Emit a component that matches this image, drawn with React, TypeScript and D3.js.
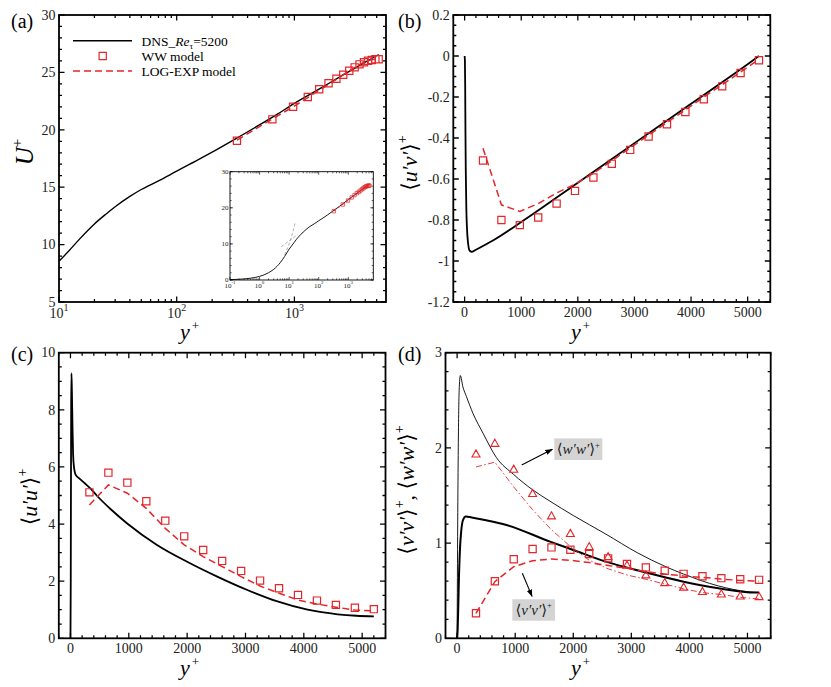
import React from "react";
import * as d3 from "d3";

const RED = "#e3262b";
const SERIF = "'Liberation Serif', 'Times New Roman', 'DejaVu Serif', serif";

// y+ of the wall-model samples (WW model and LOG-EXP model share them)
const modelYPlus = [325, 650, 975, 1300, 1625, 1950, 2275, 2600, 2925, 3250, 3575, 3900, 4225, 4550, 4875, 5200];

// (a) mean velocity U+
const dnsUYPlus = [0.1, 0.2, 0.5, 1, 2, 3, 5, 7, 10, 12, 15, 20, 25, 30, 40, 50, 70, 100, 150, 200, 300, 500, 700, 1000, 1500, 2000, 3000, 4000, 5000, 5200];
const dnsU = [0.1, 0.2, 0.5, 1, 2, 2.95, 4.8, 6.5, 8.55, 9.4, 10.5, 11.8, 12.65, 13.3, 14.2, 14.8, 15.55, 16.4, 17.35, 18.05, 19.08, 20.4, 21.3, 22.3, 23.35, 24.1, 25.15, 25.9, 26.45, 26.55];
const wwU = [19.05, 20.91, 22.01, 22.86, 23.53, 24.05, 24.45, 24.8, 25.15, 25.44, 25.7, 25.88, 26.02, 26.08, 26.14, 26.14];
const logExpU = [19.1, 20.95, 22.0, 22.8, 23.45, 23.95, 24.4, 24.8, 25.12, 25.42, 25.68, 25.88, 26.02, 26.1, 26.16, 26.2];
// inset reference laws (grey dashed)
const viscousYPlus = [7, 9, 11, 13, 15, 16];
const viscousU = [7, 9, 11, 13, 15, 16];
const logLawYPlus = [5.4, 19.5];
const logLawU = [9.2, 12.6];

// (b) Reynolds shear stress
const dnsUVYPlus = [0, 5, 10, 15, 20, 30, 40, 60, 90, 130, 200, 500, 1000, 2000, 3000, 4000, 5000, 5200];
const dnsUV = [0, -0.02, -0.15, -0.38, -0.55, -0.74, -0.83, -0.91, -0.95, -0.955, -0.945, -0.9, -0.81, -0.618, -0.425, -0.233, -0.04, 0];
const wwUV = [-0.51, -0.8, -0.825, -0.788, -0.72, -0.658, -0.593, -0.526, -0.458, -0.393, -0.333, -0.273, -0.211, -0.148, -0.083, -0.021];
const logExpUV = [-0.45, -0.726, -0.758, -0.72, -0.668, -0.625, -0.572, -0.512, -0.448, -0.386, -0.325, -0.263, -0.2, -0.14, -0.078, -0.016];

// (c) streamwise normal stress
const dnsUUYPlus = [0, 5, 8, 12, 17, 25, 35, 45, 60, 90, 150, 250, 340, 450, 700, 967, 1483, 2000, 2516, 3032, 3548, 4064, 4580, 4900, 5200];
const dnsUU = [0, 2.0, 5.0, 8.0, 9.28, 8.6, 7.4, 6.45, 6.0, 5.72, 5.6, 5.42, 5.25, 5.0, 4.5, 4.03, 3.27, 2.68, 2.16, 1.69, 1.29, 1.0, 0.84, 0.79, 0.77];
const wwUU = [5.11, 5.8, 5.45, 4.8, 4.12, 3.57, 3.09, 2.71, 2.36, 2.02, 1.75, 1.52, 1.32, 1.17, 1.07, 1.02];
const logExpUU = [4.67, 5.37, 5.08, 4.55, 3.85, 3.27, 2.86, 2.51, 2.16, 1.83, 1.58, 1.34, 1.2, 1.09, 0.99, 0.96];

// (d) wall-normal and spanwise normal stresses
const dnsVVYPlus = [0, 10, 20, 30, 50, 70, 100, 150, 250, 500, 850, 1600, 2000, 2560, 3200, 3900, 4500, 5000, 5200];
const dnsVV = [0, 0.1, 0.33, 0.6, 0.95, 1.12, 1.24, 1.28, 1.27, 1.24, 1.19, 1.015, 0.928, 0.805, 0.7, 0.595, 0.525, 0.485, 0.48];
const dnsWWYPlus = [0, 10, 20, 35, 55, 100, 160, 275, 450, 675, 975, 1300, 1600, 2000, 2560, 3100, 3600, 3900, 4500, 5000, 5200];
const dnsWW = [0, 1.2, 2.0, 2.6, 2.76, 2.64, 2.54, 2.36, 2.15, 1.9, 1.72, 1.56, 1.44, 1.29, 1.095, 0.9, 0.75, 0.675, 0.55, 0.49, 0.48];
const wwVV = [0.263, 0.6, 0.83, 0.938, 0.955, 0.93, 0.886, 0.84, 0.78, 0.745, 0.71, 0.677, 0.652, 0.632, 0.62, 0.614];
const wwWW = [1.935, 2.047, 1.775, 1.52, 1.285, 1.1, 0.962, 0.857, 0.767, 0.665, 0.584, 0.536, 0.49, 0.465, 0.444, 0.437];
const logExpVV = [0.263, 0.595, 0.752, 0.815, 0.833, 0.82, 0.795, 0.765, 0.735, 0.7, 0.675, 0.655, 0.64, 0.622, 0.608, 0.6];
const logExpWW = [1.8, 1.85, 1.59, 1.35, 1.14, 0.965, 0.82, 0.73, 0.665, 0.62, 0.57, 0.52, 0.48, 0.46, 0.43, 0.413];

const zip = (a: number[], b: number[]) => a.map((v, i) => [v, b[i]]);

const logMinor = (lo: number, hi: number) => {
    const out: number[] = [];
    for (let e = Math.floor(Math.log10(lo)); e <= Math.ceil(Math.log10(hi)); e++) {
        for (let m = 2; m <= 9; m++) {
            const v = m * Math.pow(10, e);
            if (v > lo && v < hi) out.push(v);
        }
    }
    return out;
};

const stepTicks = (lo: number, hi: number, step: number) =>
    d3.range(Math.round(lo / step), Math.round(hi / step) + 1).map((i) => +(i * step).toFixed(6));

const Squares = ({ pts, x, y, s = 3.6, sw = 1.2 }: any) => (
    <path
        d={pts.map((d: number[]) => `M${x(d[0]) - s},${y(d[1]) - s}h${2 * s}v${2 * s}h${-2 * s}z`).join("")}
        fill="none"
        stroke={RED}
        strokeWidth={sw}
    />
);

const Triangles = ({ pts, x, y }: any) => (
    <path
        d={pts.map((d: number[]) => `M${x(d[0])},${y(d[1]) - 4.2}L${x(d[0]) + 4},${y(d[1]) + 2.9}L${x(d[0]) - 4},${y(d[1]) + 2.9}Z`).join("")}
        fill="none"
        stroke={RED}
        strokeWidth={1.1}
    />
);

const Frame = (p: any) => {
    const { x, y, xMajor, xMinor, yMajor, yMinor, xTick, yTick, fs = 14, ml = 5.5, mn = 3, sw = 1.8, lx = 14.5, ly = 3.5 } = p;
    const [xl, xr] = x.range();
    const [yb, yt] = y.range();
    let d = "";
    const vt = (vals: number[], len: number) =>
        vals.forEach((v) => {
            const px = x(v);
            d += `M${px},${yb}v${-len}M${px},${yt}v${len}`;
        });
    const ht = (vals: number[], len: number) =>
        vals.forEach((v) => {
            const py = y(v);
            d += `M${xl},${py}h${len}M${xr},${py}h${-len}`;
        });
    vt(xMajor, ml);
    vt(xMinor, mn);
    ht(yMajor, ml);
    ht(yMinor, mn);
    return (
        <g>
            <path d={d} stroke="#000" strokeWidth={sw * 0.7} fill="none" />
            <rect x={xl} y={yt} width={xr - xl} height={yb - yt} fill="none" stroke="#000" strokeWidth={sw} />
            <g fontSize={fs} textAnchor="middle" fill="#222">
                {xMajor.map((v: number) => (
                    <text key={v} x={x(v)} y={yb + lx}>
                        {xTick(v)}
                    </text>
                ))}
            </g>
            <g fontSize={fs} textAnchor="end" fill="#222">
                {yMajor.map((v: number) => (
                    <text key={v} x={xl - ly} y={y(v)} dy="0.34em">
                        {yTick(v)}
                    </text>
                ))}
            </g>
        </g>
    );
};

const plain = (v: number) => String(+v.toFixed(2));

const YPlusLabel = ({ x, y }: any) => (
    <text x={x} y={y} fontSize={22}>
        <tspan fontStyle="italic">y</tspan>
        <tspan fontSize={13} dy={-9} dx={2}>+</tspan>
    </text>
);

const PanelA = () => {
    const x = d3.scaleLog([10, 6000], [59, 386]);
    const y = d3.scaleLinear([5, 30], [302, 15]);
    const smooth = d3.line().x((d: any) => x(d[0])).y((d: any) => y(d[1])).curve(d3.curveMonotoneX);
    const straight = d3.line().x((d: any) => x(d[0])).y((d: any) => y(d[1]));

    // inset
    const xi = d3.scaleLog([0.1, 7000], [230, 373.3]);
    const yi = d3.scaleLinear([0, 30], [280, 171.7]);
    const smoothI = d3.line().x((d: any) => xi(d[0])).y((d: any) => yi(d[1])).curve(d3.curveMonotoneX);
    const straightI = d3.line().x((d: any) => xi(d[0])).y((d: any) => yi(d[1]));

    const decTick = (sup: number, dy: number) => (v: number) => (
        <>
            <tspan>10</tspan>
            <tspan fontSize={sup} dy={dy}>{Math.round(Math.log10(v))}</tspan>
        </>
    );

    return (
        <g>
            <path d={smooth(zip(dnsUYPlus, dnsU).filter((d) => d[0] >= 10) as any) as string} fill="none" stroke="#000" strokeWidth={1.4} />
            <path d={straight(zip(modelYPlus, logExpU) as any) as string} fill="none" stroke={RED} strokeWidth={1.5} strokeDasharray="7 4" />
            <Squares pts={zip(modelYPlus, wwU)} x={x} y={y} />
            <Frame
                x={x}
                y={y}
                xMajor={[10, 100, 1000]}
                xMinor={logMinor(10, 6000)}
                yMajor={stepTicks(5, 30, 5)}
                yMinor={stepTicks(5, 30, 1)}
                xTick={decTick(10, -7)}
                yTick={plain}
                lx={16}
            />
            {/* legend */}
            <g fontSize={13.5}>
                <line x1={73} x2={132} y1={40.7} y2={40.7} stroke="#000" strokeWidth={1.4} />
                <text x={141.5} y={45.5}>
                    <tspan>DNS_</tspan>
                    <tspan fontStyle="italic">Re</tspan>
                    <tspan fontSize={9} dy={3}>τ</tspan>
                    <tspan dy={-3}>=5200</tspan>
                </text>
                <Squares pts={[[0, 0]]} x={() => 102.7} y={() => 56} />
                <text x={141.5} y={61}>WW model</text>
                <line x1={73} x2={132} y1={71} y2={71} stroke={RED} strokeWidth={1.5} strokeDasharray="7 4" />
                <text x={141.5} y={75.8}>LOG-EXP model</text>
            </g>
            {/* inset */}
            <rect x={230} y={171.7} width={143.3} height={108.3} fill="#fff" />
            <path d={straightI(zip(viscousYPlus, viscousU) as any) as string} fill="none" stroke="#999" strokeWidth={0.8} strokeDasharray="3 2" />
            <path d={straightI(zip(logLawYPlus, logLawU) as any) as string} fill="none" stroke="#999" strokeWidth={0.8} strokeDasharray="3 2" />
            <path d={smoothI(zip(dnsUYPlus, dnsU) as any) as string} fill="none" stroke="#000" strokeWidth={0.9} />
            <path d={straightI(zip(modelYPlus, logExpU) as any) as string} fill="none" stroke={RED} strokeWidth={0.9} strokeDasharray="3 2" />
            <Squares pts={zip(modelYPlus, wwU)} x={xi} y={yi} s={1.7} sw={0.7} />
            <Frame
                x={xi}
                y={yi}
                xMajor={[0.1, 1, 10, 100, 1000]}
                xMinor={logMinor(0.1, 7000)}
                yMajor={[0, 10, 20, 30]}
                yMinor={stepTicks(0, 30, 2)}
                xTick={decTick(5, -3.5)}
                yTick={plain}
                fs={7}
                ml={3}
                mn={1.6}
                sw={0.9}
                lx={7.5}
                ly={1.5}
            />
            <text x={11} y={28} fontSize={20}>(a)</text>
            <text transform="translate(33,152) rotate(-90)" textAnchor="middle" fontSize={25}>
                <tspan fontStyle="italic">U</tspan>
                <tspan fontSize={15} dy={-11}>+</tspan>
            </text>
            <YPlusLabel x={180} y={339} />
        </g>
    );
};

const PanelB = () => {
    const x = d3.scaleLinear([-200, 5400], [453.3, 770.3]);
    const y = d3.scaleLinear([-1.2, 0.2], [302, 15]);
    const smooth = d3.line().x((d: any) => x(d[0])).y((d: any) => y(d[1])).curve(d3.curveMonotoneX);
    const straight = d3.line().x((d: any) => x(d[0])).y((d: any) => y(d[1]));
    return (
        <g>
            <path d={smooth(zip(dnsUVYPlus, dnsUV) as any) as string} fill="none" stroke="#000" strokeWidth={1.8} />
            <path d={straight(zip(modelYPlus, logExpUV) as any) as string} fill="none" stroke={RED} strokeWidth={1.5} strokeDasharray="7 4" />
            <Squares pts={zip(modelYPlus, wwUV)} x={x} y={y} />
            <Frame
                x={x}
                y={y}
                xMajor={stepTicks(0, 5000, 1000)}
                xMinor={stepTicks(-200, 5400, 200)}
                yMajor={stepTicks(-1.2, 0.2, 0.2)}
                yMinor={stepTicks(-1.2, 0.2, 0.05)}
                xTick={plain}
                yTick={plain}
            />
            <text x={398} y={28} fontSize={20}>(b)</text>
            <text transform="translate(417,163) rotate(-90)" textAnchor="middle" fontSize={22}>
                <tspan>⟨</tspan>
                <tspan fontStyle="italic">u′v′</tspan>
                <tspan>⟩</tspan>
                <tspan fontSize={14} dy={-10}>+</tspan>
            </text>
            <YPlusLabel x={571} y={339} />
        </g>
    );
};

const PanelC = () => {
    const x = d3.scaleLinear([-200, 5400], [58.8, 385.5]);
    const y = d3.scaleLinear([0, 10], [638.3, 352.7]);
    const smooth = d3.line().x((d: any) => x(d[0])).y((d: any) => y(d[1])).curve(d3.curveMonotoneX);
    const straight = d3.line().x((d: any) => x(d[0])).y((d: any) => y(d[1]));
    return (
        <g>
            <path d={smooth(zip(dnsUUYPlus, dnsUU) as any) as string} fill="none" stroke="#000" strokeWidth={1.8} />
            <path d={straight(zip(modelYPlus, logExpUU) as any) as string} fill="none" stroke={RED} strokeWidth={1.5} strokeDasharray="7 4" />
            <Squares pts={zip(modelYPlus, wwUU)} x={x} y={y} />
            <Frame
                x={x}
                y={y}
                xMajor={stepTicks(0, 5000, 1000)}
                xMinor={stepTicks(-200, 5400, 200)}
                yMajor={stepTicks(0, 10, 2)}
                yMinor={stepTicks(0, 10, 0.5)}
                xTick={plain}
                yTick={plain}
            />
            <text x={11} y={361} fontSize={20}>(c)</text>
            <text transform="translate(37,497) rotate(-90)" textAnchor="middle" fontSize={22}>
                <tspan>⟨</tspan>
                <tspan fontStyle="italic">u′u′</tspan>
                <tspan>⟩</tspan>
                <tspan fontSize={14} dy={-10}>+</tspan>
            </text>
            <YPlusLabel x={180} y={675} />
        </g>
    );
};

const PanelD = () => {
    const x = d3.scaleLinear([-200, 5400], [445.5, 770.7]);
    const y = d3.scaleLinear([0, 3], [638.3, 352.7]);
    const smooth = d3.line().x((d: any) => x(d[0])).y((d: any) => y(d[1])).curve(d3.curveMonotoneX);
    const straight = d3.line().x((d: any) => x(d[0])).y((d: any) => y(d[1]));
    // annotation boxes placed in data coordinates
    const boxes = [
        { label: "w′w′", x0: 1674, x1: 2500, y0: 2.1, y1: 1.873, from: [1112, 1.821], to: [1640, 1.985] },
        { label: "v′v′", x0: 951, x1: 1686, y0: 0.41, y1: 0.185, from: [1123, 0.683], to: [1290, 0.44] },
    ];
    return (
        <g>
            <defs>
                <marker id="arr" viewBox="0 0 10 10" refX={9} refY={5} markerWidth={7} markerHeight={7} orient="auto">
                    <path d="M0,1.5L10,5L0,8.5z" fill="#000" />
                </marker>
            </defs>
            <path d={smooth(zip(dnsWWYPlus, dnsWW) as any) as string} fill="none" stroke="#000" strokeWidth={0.9} />
            <path d={smooth(zip(dnsVVYPlus, dnsVV) as any) as string} fill="none" stroke="#000" strokeWidth={2} />
            <path d={straight(zip(modelYPlus, logExpWW) as any) as string} fill="none" stroke={RED} strokeWidth={0.9} strokeDasharray="6 2.5 1.5 2.5" />
            <path d={straight(zip(modelYPlus, logExpVV) as any) as string} fill="none" stroke={RED} strokeWidth={1.5} strokeDasharray="7 4" />
            <Squares pts={zip(modelYPlus, wwVV)} x={x} y={y} />
            <Triangles pts={zip(modelYPlus, wwWW)} x={x} y={y} />
            {boxes.map((b) => (
                <g key={b.label}>
                    <rect x={x(b.x0)} y={y(b.y0)} width={x(b.x1) - x(b.x0)} height={y(b.y1) - y(b.y0)} fill="#d4d4d4" />
                    <text x={(x(b.x0) + x(b.x1)) / 2} y={(y(b.y0) + y(b.y1)) / 2 + 5} textAnchor="middle" fontSize={15} fill="#222">
                        <tspan>⟨</tspan>
                        <tspan fontStyle="italic">{b.label}</tspan>
                        <tspan>⟩</tspan>
                        <tspan fontSize={8.5} dy={-6.5}>+</tspan>
                    </text>
                    <line x1={x(b.from[0])} y1={y(b.from[1])} x2={x(b.to[0])} y2={y(b.to[1])} stroke="#000" strokeWidth={1.1} markerEnd="url(#arr)" />
                </g>
            ))}
            <Frame
                x={x}
                y={y}
                xMajor={stepTicks(0, 5000, 1000)}
                xMinor={stepTicks(-200, 5400, 200)}
                yMajor={stepTicks(0, 3, 1)}
                yMinor={stepTicks(0, 3, 0.2)}
                xTick={plain}
                yTick={plain}
            />
            <text x={398} y={361} fontSize={20}>(d)</text>
            <text transform="translate(414,490) rotate(-90)" textAnchor="middle" fontSize={22}>
                <tspan>⟨</tspan>
                <tspan fontStyle="italic">v′v′</tspan>
                <tspan>⟩</tspan>
                <tspan fontSize={14} dy={-10}>+</tspan>
                <tspan dy={10}>, ⟨</tspan>
                <tspan fontStyle="italic">w′w′</tspan>
                <tspan>⟩</tspan>
                <tspan fontSize={14} dy={-10}>+</tspan>
            </text>
            <YPlusLabel x={571} y={675} />
        </g>
    );
};

export default function App() {
    return (
        <svg
            width={831}
            height={687}
            style={{ position: "absolute", top: 0, left: 0, background: "#fff", fontFamily: SERIF }}
            fontFamily={SERIF}
        >
            <rect width={831} height={687} fill="#fff" />
            <PanelA />
            <PanelB />
            <PanelC />
            <PanelD />
        </svg>
    );
}
